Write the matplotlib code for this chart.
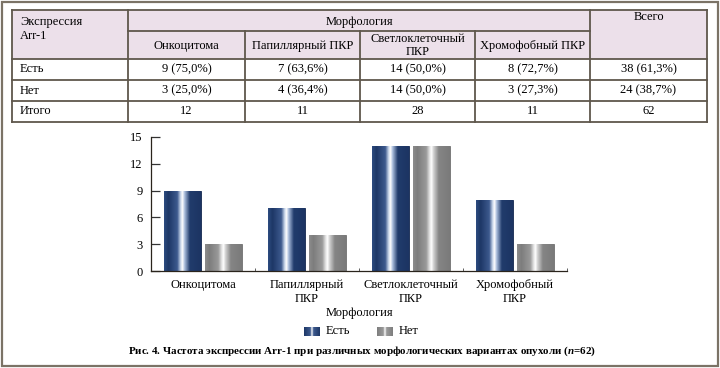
import numpy as np
import matplotlib
matplotlib.use("Agg")
import matplotlib.pyplot as plt
from matplotlib.patches import Rectangle
from matplotlib.colors import to_rgb

# data
categories = ["Онкоцитома", "Папиллярный\nПКР", "Светлоклеточный\nПКР", "Хромофобный\nПКР"]
table_heads = ["Онкоцитома", "Папиллярный ПКР", "Светлоклеточный\nПКР", "Хромофобный ПКР"]
yes_counts = [9, 7, 14, 8]
no_counts = [3, 4, 14, 3]
yes_pct = [75.0, 63.6, 50.0, 72.7]
no_pct = [25.0, 36.4, 50.0, 27.3]
totals = [12, 11, 28, 11]
yes_total, yes_total_pct = 38, 61.3
no_total, no_total_pct = 24, 38.7
grand_total = 62
series_names = ["Есть", "Нет"]

plt.rcParams['font.family'] = ['Liberation Serif', 'DejaVu Serif']
plt.rcParams['mathtext.fontset'] = 'custom'
plt.rcParams['mathtext.it'] = 'Liberation Serif:italic:bold'
plt.rcParams['mathtext.rm'] = 'Liberation Serif:bold'
FS = 9
CAP_FS = 7.95
LINE = "#5f574c"
HEAD = "#ece0ea"


def grad(stops, cols, n=200):
    x = np.linspace(0, 1, n)
    rgb = np.array([to_rgb(c) for c in cols])
    img = np.stack([np.interp(x, stops, rgb[:, k]) for k in range(3)], axis=-1)
    return img[np.newaxis, :, :]

stops = [0, 0.12, 0.36, 0.45, 0.5, 0.56, 0.7, 1]
blue = grad(stops, ["#2d4b80", "#1d3766", "#3d5a8e", "#c9d6ea", "#ffffff", "#a9bcdc", "#213c6c", "#1c3463"])
gray = grad(stops, ["#8c8c8c", "#7d7d7d", "#9a9a9a", "#e2e2e2", "#ffffff", "#d0d0d0", "#858585", "#7a7a7a"])
lstops = [0, 0.4, 0.5, 0.6, 1]
blue_leg = grad(lstops, ["#1d3766", "#3d5a8e", "#ffffff", "#3d5a8e", "#1d3766"])
gray_leg = grad(lstops, ["#7d7d7d", "#9a9a9a", "#ffffff", "#9a9a9a", "#7d7d7d"])

fig = plt.figure(figsize=(7.2, 3.68), dpi=100)

# overlay for frame, table, legend, caption (pixel coords)
ov = fig.add_axes([0, 0, 1, 1])
ov.set_xlim(0, 720)
ov.set_ylim(368, 0)
ov.axis("off")

ov.add_patch(Rectangle((1.5, 1.5), 716, 364, fill=False, ec="#7b7366", lw=1.6))

cols = [12, 128, 245, 360, 475, 590, 707]
rows = [10, 31, 59, 80, 101, 122]

# header fills
ov.add_patch(Rectangle((cols[0], rows[0]), cols[-1] - cols[0], rows[2] - rows[0], fc=HEAD, ec="none"))

def hline(y, x0, x1):
    ov.plot([x0, x1], [y, y], color=LINE, lw=1.3, solid_capstyle="projecting")

def vline(x, y0, y1):
    ov.plot([x, x], [y0, y1], color=LINE, lw=1.3, solid_capstyle="projecting")

for y in [rows[0], rows[2], rows[3], rows[4], rows[5]]:
    hline(y, cols[0], cols[-1])
hline(rows[1], cols[1], cols[5])
for x in [cols[0], cols[1], cols[5], cols[6]]:
    vline(x, rows[0], rows[5])
for x in cols[2:5]:
    vline(x, rows[1], rows[5])

ov.text(20, 21.5, "Экспрессия", fontsize=FS, va="center", ha="left")
ov.text(20, 36, "Arr-1", fontsize=FS, va="center", ha="left")
ov.text((cols[1] + cols[5]) / 2, 21.5, "Морфология", fontsize=FS, va="center", ha="center")
ov.text((cols[5] + cols[6]) / 2, 17, "Всего", fontsize=FS, va="center", ha="center")
for i, h in enumerate(table_heads):
    ov.text((cols[i + 1] + cols[i + 2]) / 2, 45.5, h, fontsize=FS, va="center", ha="center",
            linespacing=1.2)

row_names = ["Есть", "Нет", "Итого"]
for r, name in enumerate(row_names):
    ov.text(20, (rows[r + 2] + rows[r + 3]) / 2, name, fontsize=FS, va="center", ha="left")

def fmt(n, p):
    return f"{n} ({p:.1f}%)".replace(".", ",")

for i in range(4):
    cx = (cols[i + 1] + cols[i + 2]) / 2
    ov.text(cx, (rows[2] + rows[3]) / 2, fmt(yes_counts[i], yes_pct[i]), fontsize=FS, ha="center", va="center")
    ov.text(cx, (rows[3] + rows[4]) / 2, fmt(no_counts[i], no_pct[i]), fontsize=FS, ha="center", va="center")
    ov.text(cx, (rows[4] + rows[5]) / 2, str(totals[i]), fontsize=FS, ha="center", va="center")
cx = (cols[5] + cols[6]) / 2
ov.text(cx, (rows[2] + rows[3]) / 2, fmt(yes_total, yes_total_pct), fontsize=FS, ha="center", va="center")
ov.text(cx, (rows[3] + rows[4]) / 2, fmt(no_total, no_total_pct), fontsize=FS, ha="center", va="center")
ov.text(cx, (rows[4] + rows[5]) / 2, str(grand_total), fontsize=FS, ha="center", va="center")

# legend (manual, gradient swatches)
for (x0, img, lab) in [(304, blue_leg, series_names[0]), (377, gray_leg, series_names[1])]:
    ov.imshow(img, extent=[x0, x0 + 16, 336, 327], aspect="auto", zorder=3)
    ov.text(x0 + 22, 331.5, lab, fontsize=FS, ha="left", va="center")

ov.text(362, 351,
        r"Рис. 4. Частота экспрессии Arr-1 при различных морфологических вариантах опухоли ($\mathit{n}$=62)",
        fontsize=CAP_FS, fontweight="bold", ha="center", va="center")
ov.set_xlim(0, 720)
ov.set_ylim(368, 0)

# chart
ax = fig.add_axes([151 / 720, (368 - 271) / 368, (567 - 151) / 720, (271 - 137) / 368])
x = np.arange(len(categories))
w = 0.355
off = 0.2
b1 = ax.bar(x - off, yes_counts, width=w, color="#1d3766", edgecolor="#14284f", lw=0.6, zorder=2)
b2 = ax.bar(x + off, no_counts, width=w, color="#8a8a8a", edgecolor="#707070", lw=0.6, zorder=2)
for bars, img in [(b1, blue), (b2, gray)]:
    for p in bars:
        im = ax.imshow(img, extent=[p.get_x(), p.get_x() + p.get_width(), 0, p.get_height()],
                       aspect="auto", zorder=2.5)
        im.set_clip_path(p)

ax.set_xlim(-0.5, 3.5)
ax.set_ylim(0, 15)
ax.set_yticks([0, 3, 6, 9, 12, 15])
ax.set_xticks(x)
ax.set_xticklabels(categories, fontsize=FS, linespacing=1.15)
ax.set_xticks([0.5, 1.5, 2.5, 3.5], minor=True)
ax.tick_params(axis="x", which="major", length=0, pad=6)
ax.tick_params(axis="x", which="minor", direction="in", length=2, color="#444444")
ax.tick_params(axis="y", direction="in", length=6.5, width=0.9, color="#333333", labelsize=FS, pad=6)
for s in ["top", "right"]:
    ax.spines[s].set_visible(False)
for s in ["left", "bottom"]:
    ax.spines[s].set_color("#2a241c")
    ax.spines[s].set_linewidth(0.9)
ax.set_xlabel("Морфология", fontsize=FS, labelpad=2)

fig.savefig("out.png", dpi=100)
